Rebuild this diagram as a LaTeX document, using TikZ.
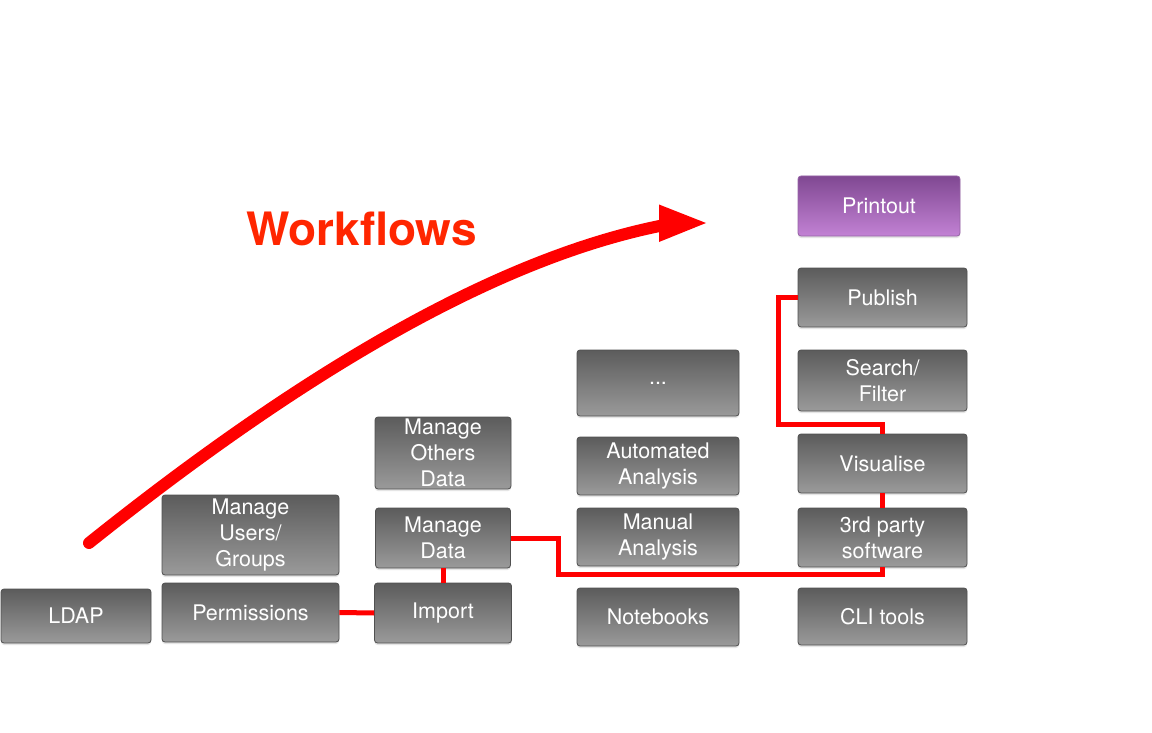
\documentclass[tikz,border=0pt]{standalone}
\usepackage{fontspec}
\setmainfont{TeX Gyre Heros}
\usetikzlibrary{arrows.meta,calc,shadows}
\definecolor{boxtop}{RGB}{92,92,92}
\definecolor{boxbot}{RGB}{154,154,154}
\definecolor{boxline}{RGB}{80,80,80}
\definecolor{purtop}{RGB}{128,72,146}
\definecolor{purbot}{RGB}{194,130,212}
\definecolor{purline}{RGB}{150,100,165}
\definecolor{wfred}{RGB}{255,38,0}
\definecolor{lnred}{RGB}{255,0,0}
\tikzset{
  box/.style={draw=boxline, line width=0.8pt, rounded corners=3pt,
    top color=boxtop, bottom color=boxbot, text=white, align=center,
    font=\fontsize{21.5}{26}\selectfont, inner sep=0pt,
    drop shadow={shadow xshift=0pt, shadow yshift=-2pt, opacity=0.25, fill=black!40}},
  pbox/.style={box, draw=purline, top color=purtop, bottom color=purbot},
  conn/.style={draw=lnred, line width=5pt},
}
\begin{document}
\begin{tikzpicture}[x=1pt,y=-1pt]
\useasboundingbox (0,0) rectangle (1152,733);
\fill[white] (0,0) rectangle (1152,733);

\node[box, minimum width=150pt, minimum height=54pt] (ldap) at (76,616) {LDAP};
\node[box, minimum width=177pt, minimum height=80pt] (users) at (250.5,535) {Manage\\Users/\\Groups};
\node[box, minimum width=177pt, minimum height=59pt] (perm) at (250.5,612.5) {Permissions};
\node[box, minimum width=136pt, minimum height=72pt] (others) at (443,453) {Manage\\Others\\Data};
\node[box, minimum width=135pt, minimum height=60pt] (mdata) at (443,538) {Manage\\Data};
\node[box, minimum width=137pt, minimum height=60pt] (import) at (443,613) {Import};
\node[box, minimum width=162pt, minimum height=66pt] (dots) at (658,383) {...};
\node[box, minimum width=162pt, minimum height=58pt] (auto) at (658,466) {Automated\\Analysis};
\node[box, minimum width=162pt, minimum height=58pt] (manual) at (658,537) {Manual\\Analysis};
\node[box, minimum width=162pt, minimum height=58pt] (notebooks) at (658,617) {Notebooks};
\node[pbox, minimum width=162pt, minimum height=60pt] (printout) at (879,206) {Printout};
\node[box, minimum width=169pt, minimum height=59pt] (publish) at (882.5,297.5) {Publish};
\node[box, minimum width=169pt, minimum height=61pt] (search) at (882.5,380.5) {Search/\\Filter};
\node[box, minimum width=169pt, minimum height=59pt] (visualise) at (882.5,463.5) {Visualise};
\node[box, minimum width=169pt, minimum height=59pt] (third) at (882.5,537.5) {3rd party\\software};
\node[box, minimum width=169pt, minimum height=57pt] (cli) at (882.5,616.5) {CLI tools};

\coordinate (c1) at (558,574);
\coordinate (c2) at (778,424);
\draw[conn] (perm.east) -- (import.west);
\draw[conn] (mdata.south) -- (import.north);
\draw[conn] (mdata.east) -| (c1) -| (third.south);
\draw[conn] (visualise.south) -- (third.north);
\draw[conn] (visualise.north) |- (c2) |- (publish.west);

\coordinate (a0) at (89,543);
\coordinate (ac1) at (314,363);
\coordinate (ac2) at (504,257);
\coordinate (a1) at (662,225.5);
\coordinate (h1) at (659,204.5);
\coordinate (tip) at (706,223);
\coordinate (h2) at (659,242);
\draw[lnred, line width=12pt, line cap=round] (a0) .. controls (ac1) and (ac2) .. (a1);
\fill[lnred] (h1) -- (tip) -- (h2) -- cycle;

\node[text=wfred, font=\fontsize{46}{50}\selectfont\bfseries, anchor=base, inner sep=0pt] (wf) at (361.5,245) {Workflows};
\end{tikzpicture}
\end{document}
